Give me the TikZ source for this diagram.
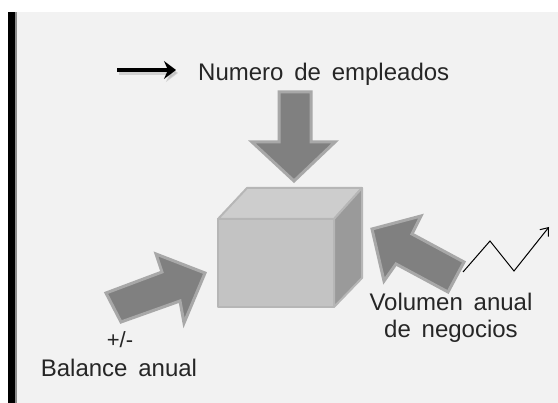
\documentclass[tikz,border=0pt]{standalone}
\usepackage{fontspec}
\setmainfont{Liberation Sans}
\usepackage{tikz}
\usetikzlibrary{arrows.meta, positioning, calc}

\definecolor{bggray}{HTML}{F2F2F2}
\definecolor{arrowfill}{HTML}{808080}
\definecolor{arrowedge}{HTML}{A8A8A8}
\definecolor{cubefront}{HTML}{C3C3C3}
\definecolor{cubetop}{HTML}{CDCDCD}
\definecolor{cubeside}{HTML}{9A9A9A}
\definecolor{cubeedge}{HTML}{B6B6B6}
\newcommand\letrarotulo{\fontsize{24}{27}\selectfont\spaceskip=0.45em plus 0.1em\relax}

\begin{document}
\begin{tikzpicture}[x=1pt, y=-1pt,
		bigarrow/.style={fill=arrowfill, draw=arrowedge, line width=3pt, line join=miter},
		face/.style={draw=cubeedge, line width=2pt, line join=round},
		label/.style={font=\letrarotulo, inner sep=0pt, align=center, text=black!85}]
			\useasboundingbox (0,0) rectangle (558,403);
			% Background
			\fill[bggray] (8,12) rectangle (558,403);
			\fill[black] (8,12) rectangle (15,403);
			\fill[black!45] (15,12) rectangle (16.5,403);
			% Cube
			\draw[face, fill=cubefront] (218,219) rectangle (334,307);
			\draw[face, fill=cubetop] (218,219) -- (247,188) -- (362,188) -- (334,219) -- cycle;
			\draw[face, fill=cubeside] (334,219) -- (362,188) -- (362,278) -- (334,307) -- cycle;
			% Block arrows
			\draw[bigarrow] (279,92) -- (311,92) -- (311,142) -- (335,142) -- (294,181) -- (252,142) -- (279,142) -- cycle;
			\draw[bigarrow] (106,293) -- (162,272) -- (156,254) -- (205,273) -- (184,323) -- (180,301) -- (121,322) -- cycle;
			\draw[bigarrow] (464,262) -- (412,234) -- (421,216) -- (372,229) -- (384,281) -- (396,264) -- (448,292) -- cycle;
			% Labels
			\node[label, anchor=base west] (numero) at (198,81) {Numero de empleados};
			\node[label, font=\fontsize{22}{24}\selectfont, anchor=base] (masmenos) at (120,348) {+/-};
			\node[label, anchor=base] (balance) at (119,377) {Balance anual};
			\node[label, anchor=base] (volumen) at (451,338) {Volumen anual\\de negocios};
			% Small arrow and zigzag
			\coordinate (flechaini) at (117,70);
			\coordinate (flechafin) at (176,70);
			\draw[black!30, line width=4pt, opacity=0.5, -{Stealth[length=12pt, width=18pt, inset=4pt]}] ($(flechaini)+(2,3)$) -- ($(flechafin)+(2,3)$);
			\draw[line width=4pt, -{Stealth[length=12pt, width=18pt, inset=4pt]}] (flechaini) -- (flechafin);
			\coordinate (zigini) at (463,272);
			\coordinate (zigfin) at (549,227);
			\draw[line width=1pt, -{Straight Barb[length=7pt, width=11pt]}] (zigini) -- (490,241) -- (514,271) -- (zigfin);
		\end{tikzpicture}
\end{document}
